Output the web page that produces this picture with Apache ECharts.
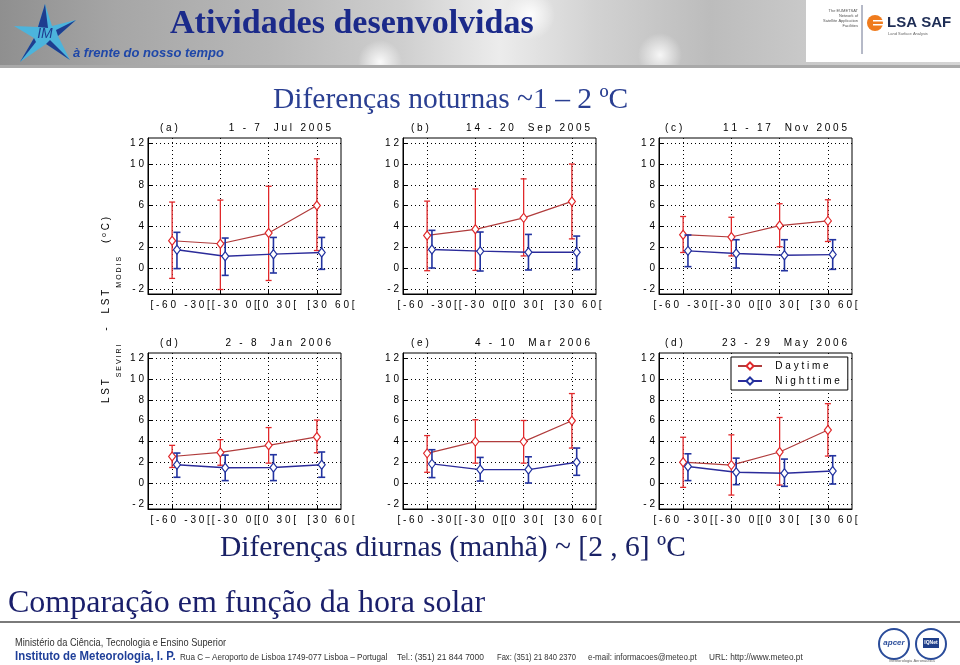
<!DOCTYPE html>
<html><head><meta charset="utf-8">
<script src="https://cdn.jsdelivr.net/npm/echarts@6/dist/echarts.min.js"></script>
<style>html,body{margin:0;padding:0;background:#fff}#c{width:960px;height:665px}</style>
</head><body><div id="c"></div>
<script>
// ---------- data ----------
const categories = ['[-60 -30[', '[-30 0[', '[0 30[', '[30 60['];
const xPositions = [1, 2, 3, 4];
const yTicks = [-2, 0, 2, 4, 6, 8, 10, 12];
const panelTags = ['(a)', '(b)', '(c)', '(d)', '(e)', '(d)'];
const panelDates = ['1 - 7  Jul 2005', '14 - 20  Sep 2005', '11 - 17  Nov 2005',
                    '2 - 8  Jan 2006', '4 - 10  Mar 2006', '23 - 29  May 2006'];
const seriesNames = ['Daytime', 'Nighttime'];
const dayMean  = [[2.62, 2.33, 3.36, 6.01], [3.13, 3.72, 4.82, 6.40], [3.20, 2.98, 4.08, 4.53],
                  [2.55, 2.94, 3.62, 4.43], [2.85, 3.98, 3.98, 5.98], [2.00, 1.72, 2.98, 5.10]];
const dayLow   = [[-1.00, -2.07, -1.20, 1.68], [-0.26, -0.23, 1.16, 2.80], [1.49, 1.16, 2.04, 2.55],
                  [1.49, 1.71, 1.91, 2.91], [1.03, 1.91, 1.91, 3.36], [-0.42, -1.16, -0.20, 2.59]];
const dayHigh  = [[6.34, 6.53, 7.86, 10.50], [6.43, 7.60, 8.57, 10.00], [4.95, 4.88, 6.18, 6.56],
                  [3.62, 4.17, 5.33, 6.05], [4.56, 6.08, 6.01, 8.60], [4.40, 4.63, 6.30, 7.63]];
const nightMean = [[1.75, 1.13, 1.33, 1.49], [1.78, 1.62, 1.52, 1.52], [1.65, 1.39, 1.23, 1.29],
                   [1.75, 1.46, 1.49, 1.75], [1.84, 1.29, 1.29, 2.00], [1.58, 1.03, 0.94, 1.16]];
const nightLow  = [[-0.06, -0.71, -0.48, -0.13], [0.00, -0.29, -0.19, -0.16], [0.13, 0.00, -0.26, -0.13],
                   [0.55, 0.23, 0.23, 0.55], [0.52, 0.19, 0.00, 0.74], [0.23, -0.16, -0.32, -0.10]];
const nightHigh = [[3.43, 2.88, 2.94, 2.94], [3.62, 3.46, 3.23, 3.07], [3.17, 2.72, 2.72, 2.72],
                   [2.88, 2.68, 2.72, 2.98], [3.20, 2.46, 2.52, 3.36], [2.81, 2.39, 2.30, 2.62]];

// ---------- layout / style ----------
const nightOffset = 0.1;
const gridLefts = [148, 403, 659];
const gridTops = [138, 353];
const gridW = 193, gridH = 156;
const tagOffsets = [12, 8, 6];
const dateOffsets = [10, 6, 5];
const labelShift = [8, 0, 0];
const evenExtraShift = 6;
const FONT = '"Liberation Sans", Arial, sans-serif';
const SERIF = '"Liberation Serif", "Times New Roman", serif';
const dayColor = '#e0282a', dayLine = '#b03c3c';
const nightColor = '#2233a0', nightLine = '#2b2b9a';
const sp = s => s.split('').join(' ');
const oddTicks = xPositions.filter((v, k) => k % 2 === 0);
const evenTicks = xPositions.filter((v, k) => k % 2 === 1);

const grids = [], xAxes = [], yAxes = [], titles = [], series = [];

function errRender(color, width, hw) {
  return function (params, api) {
    const x = api.value(0);
    const lo = api.coord([x, api.value(1)]);
    const hi = api.coord([x, api.value(2)]);
    const st = { stroke: color, lineWidth: width };
    return { type: 'group', children: [
      { type: 'line', shape: { x1: lo[0], y1: lo[1], x2: hi[0], y2: hi[1] }, style: st },
      { type: 'line', shape: { x1: lo[0] - hw, y1: lo[1], x2: lo[0] + hw, y2: lo[1] }, style: st },
      { type: 'line', shape: { x1: hi[0] - hw, y1: hi[1], x2: hi[0] + hw, y2: hi[1] }, style: st }
    ]};
  };
}

const labelFmt = v => sp(categories[xPositions.indexOf(v)] || '');

for (let i = 0; i < 6; i++) {
  const col = i % 3, row = Math.floor(i / 3);
  const left = gridLefts[col], top = gridTops[row];
  grids.push({ left: left, top: top, width: gridW, height: gridH, show: true,
               borderColor: '#000', borderWidth: 1, backgroundColor: '#fff' });
  const dotted = { show: true, lineStyle: { color: '#000', type: [1, 3], width: 1 } };
  const lblBase = { color: '#000', fontFamily: FONT, fontSize: 10, margin: 6,
                    showMinLabel: true, showMaxLabel: true, hideOverlap: false, formatter: labelFmt };
  // main x axis: ticks, grid lines and labels at 1 and 3
  xAxes.push({
    type: 'value', gridIndex: i, min: 0.5, max: 4.5, position: 'bottom',
    axisLine: { show: true, onZero: false, lineStyle: { color: '#000' } },
    axisTick: { show: true, inside: true, length: 4, customValues: xPositions, lineStyle: { color: '#000' } },
    axisLabel: Object.assign({ customValues: oddTicks, padding: [0, 0, 0, 2 * labelShift[col]] }, lblBase),
    splitLine: Object.assign({}, dotted)
  });
  // companion x axis: labels at 2 and 4 only
  xAxes.push({
    type: 'value', gridIndex: i, min: 0.5, max: 4.5, position: 'bottom', offset: 0,
    axisLine: { show: false, onZero: false }, axisTick: { show: false }, splitLine: { show: false },
    axisLabel: Object.assign({ customValues: evenTicks,
      padding: [0, 0, 0, 2 * (labelShift[col] + evenExtraShift)] }, lblBase)
  });
  yAxes.push({
    type: 'value', gridIndex: i, min: -2.5, max: 12.5,
    axisLine: { show: true, lineStyle: { color: '#000' } },
    axisTick: { show: true, inside: true, length: 4, customValues: yTicks, lineStyle: { color: '#000' } },
    axisLabel: { customValues: yTicks, color: '#000', fontFamily: FONT, fontSize: 10, margin: 4,
                 showMinLabel: true, showMaxLabel: true,
                 formatter: v => sp(String(v)) },
    splitLine: dotted
  });
  titles.push({ text: sp(panelTags[i]), left: left + tagOffsets[col], top: top - 15, padding: 0,
                textStyle: { fontSize: 10, fontWeight: 'normal', color: '#000', fontFamily: FONT } });
  titles.push({ text: sp(panelDates[i]), right: 960 - (left + gridW - dateOffsets[col]), top: top - 15, padding: 0,
                textStyle: { fontSize: 10, fontWeight: 'normal', color: '#000', fontFamily: FONT } });

  const xi = 2 * i;
  series.push({ type: 'custom', xAxisIndex: xi, yAxisIndex: i, silent: true, z: 2,
    encode: { x: 0, y: [1, 2] },
    data: xPositions.map((x, j) => [x, dayLow[i][j], dayHigh[i][j]]),
    renderItem: errRender(dayColor, 1.3, 3) });
  series.push({ type: 'line', name: seriesNames[0], xAxisIndex: xi, yAxisIndex: i, z: 3,
    data: xPositions.map((x, j) => [x, dayMean[i][j]]),
    symbol: 'diamond', symbolSize: [7, 9], showSymbol: true, animation: false,
    lineStyle: { color: dayLine, width: 1.2 },
    itemStyle: { color: '#fff', borderColor: dayColor, borderWidth: 1.2 } });
  series.push({ type: 'custom', xAxisIndex: xi, yAxisIndex: i, silent: true, z: 4,
    encode: { x: 0, y: [1, 2] },
    data: xPositions.map((x, j) => [x + nightOffset, nightLow[i][j], nightHigh[i][j]]),
    renderItem: errRender(nightColor, 1.6, 3.5) });
  series.push({ type: 'line', name: seriesNames[1], xAxisIndex: xi, yAxisIndex: i, z: 5,
    data: xPositions.map((x, j) => [x + nightOffset, nightMean[i][j]]),
    symbol: 'diamond', symbolSize: [7, 9], showSymbol: true, animation: false,
    lineStyle: { color: nightLine, width: 1.4 },
    itemStyle: { color: '#fff', borderColor: nightColor, borderWidth: 1.2 } });
}

function ftext(x, y, text, font, fill, sx) {
  return { type: 'text', x: x, y: y, scaleX: sx,
    style: { x: 0, y: 0, text: text, align: 'left', verticalAlign: 'middle', font: font, fill: fill } };
}

// ---------- page decoration ----------
const graphic = [
  { type: 'rect', z: -10, shape: { x: 0, y: 0, width: 960, height: 68 },
    style: { fill: new echarts.graphic.LinearGradient(0, 0, 1, 0, [
      { offset: 0, color: '#8f8f8f' }, { offset: 0.12, color: '#a6a6a6' }, { offset: 0.28, color: '#b8b8b8' },
      { offset: 0.42, color: '#cfcfcf' }, { offset: 0.52, color: '#ececec' }, { offset: 0.62, color: '#d2d2d2' },
      { offset: 0.74, color: '#bcbcbc' }, { offset: 0.84, color: '#c9c9c9' }, { offset: 1, color: '#d5d5d5' }]) } },
  { type: 'ellipse', z: -9, shape: { cx: 380, cy: 62, rx: 90, ry: 22 },
    style: { fill: new echarts.graphic.RadialGradient(0.5, 0.5, 0.5, [{ offset: 0, color: 'rgba(255,255,255,0.9)' }, { offset: 1, color: 'rgba(255,255,255,0)' }]) } },
  { type: 'ellipse', z: -9, shape: { cx: 530, cy: 15, rx: 70, ry: 25 },
    style: { fill: new echarts.graphic.RadialGradient(0.5, 0.5, 0.5, [{ offset: 0, color: 'rgba(255,255,255,0.95)' }, { offset: 1, color: 'rgba(255,255,255,0)' }]) } },
  { type: 'ellipse', z: -9, shape: { cx: 660, cy: 55, rx: 70, ry: 22 },
    style: { fill: new echarts.graphic.RadialGradient(0.5, 0.5, 0.5, [{ offset: 0, color: 'rgba(255,255,255,0.85)' }, { offset: 1, color: 'rgba(255,255,255,0)' }]) } },
  { type: 'rect', z: -8, shape: { x: 0, y: 65, width: 960, height: 3 }, style: { fill: '#a9a9a9' } },
  // IM logo
  { type: 'polygon', z: -5, shape: { points: [[45, 4], [52, 26], [76, 20], [58, 36], [70, 60], [46, 44], [20, 62], [34, 38], [14, 26], [38, 27]] },
    style: { fill: '#4cb4dc' } },
  { type: 'polygon', z: -4, shape: { points: [[45, 4], [48, 28], [38, 27]] }, style: { fill: '#1e3d8f' } },
  { type: 'polygon', z: -4, shape: { points: [[76, 20], [56, 30], [58, 36]] }, style: { fill: '#1e3d8f' } },
  { type: 'polygon', z: -4, shape: { points: [[70, 60], [50, 40], [46, 44]] }, style: { fill: '#1e3d8f' } },
  { type: 'polygon', z: -4, shape: { points: [[20, 62], [36, 42], [34, 38]] }, style: { fill: '#1e3d8f' } },
  { type: 'text', z: -3, style: { x: 45, y: 34, text: 'IM', align: 'center', verticalAlign: 'middle',
    font: 'italic 14px "Liberation Sans"', fill: '#1e3d8f' } },
  // LSA SAF box
  { type: 'rect', z: -5, shape: { x: 806, y: 0, width: 154, height: 62 }, style: { fill: '#ffffff' } },
  { type: 'line', z: -4, shape: { x1: 862, y1: 5, x2: 862, y2: 54 }, style: { stroke: '#6d7590', lineWidth: 1 } },
  { type: 'text', z: -4, style: { x: 858, y: 8, text: 'The EUMETSAT\nNetwork of\nSatellite Application\nFacilities',
    align: 'right', verticalAlign: 'top', font: '4px "Liberation Sans"', lineHeight: 5, fill: '#555' } },
  { type: 'circle', z: -4, shape: { cx: 875, cy: 23, r: 8 }, style: { fill: '#ef7b1d' } },
  { type: 'rect', z: -3, shape: { x: 873, y: 20, width: 11, height: 1.5 }, style: { fill: '#fff' } },
  { type: 'rect', z: -3, shape: { x: 873, y: 24, width: 11, height: 1.5 }, style: { fill: '#fff' } },
  { type: 'text', z: -3, style: { x: 887, y: 23, text: 'LSA SAF', align: 'left', verticalAlign: 'middle',
    font: 'bold 15px "Liberation Sans"', fill: '#1e2d55' } },
  { type: 'text', z: -3, style: { x: 888, y: 34, text: 'Land Surface Analysis', align: 'left', verticalAlign: 'middle',
    font: '4px "Liberation Sans"', fill: '#666' } },
  // header texts
  { type: 'text', style: { x: 170, y: 24, text: 'Atividades desenvolvidas', align: 'left', verticalAlign: 'middle',
    font: 'bold 34px ' + SERIF, fill: '#1b2a8a' } },
  { type: 'text', style: { x: 73, y: 53, text: 'à frente do nosso tempo', align: 'left', verticalAlign: 'middle',
    font: 'italic bold 13px "Liberation Sans"', fill: '#1f47a8' } },
  // slide texts
  { type: 'text', style: { x: 273, y: 100, text: 'Diferenças noturnas ~1 – 2 ºC', align: 'left', verticalAlign: 'middle',
    font: '29.5px ' + SERIF, fill: '#2a3f92' } },
  { type: 'text', style: { x: 220, y: 548, text: 'Diferenças diurnas (manhã) ~ [2 , 6] ºC', align: 'left', verticalAlign: 'middle',
    font: '29.5px ' + SERIF, fill: '#1a2266' } },
  { type: 'text', style: { x: 8, y: 604, text: 'Comparação em função da hora solar', align: 'left', verticalAlign: 'middle',
    font: '32px ' + SERIF, fill: '#1a1f6b' } },
  // rotated y label
  { type: 'text', x: 112, y: 310, rotation: Math.PI / 2,
    style: { text: '{a|L S T}{s| S E V I R I}{a|     -     L S T}{s| M O D I S}{a|     ( }{u|o}{a| C )}', align: 'center', verticalAlign: 'middle',
      rich: {
        a: { fontSize: 10, fontFamily: FONT, fill: '#000', verticalAlign: 'top', lineHeight: 18 },
        s: { fontSize: 7, fontFamily: FONT, fill: '#000', verticalAlign: 'bottom', lineHeight: 18 },
        u: { fontSize: 7, fontFamily: FONT, fill: '#000', verticalAlign: 'top', lineHeight: 22 }
      } } },
  // footer
  { type: 'rect', shape: { x: 0, y: 621, width: 960, height: 2 }, style: { fill: '#7a7a7a' } },
  ftext(15, 643, 'Ministério da Ciência, Tecnologia e Ensino Superior', '11px "Liberation Sans"', '#333', 0.84),
  ftext(15, 657, 'Instituto de Meteorologia, I. P.', 'bold 12px "Liberation Sans"', '#1f3f99', 0.95),
  ftext(180, 657, 'Rua C – Aeroporto de Lisboa 1749-077 Lisboa – Portugal', '9.5px "Liberation Sans"', '#333', 0.855),
  ftext(397, 657, 'Tel.: (351) 21 844 7000', '9.5px "Liberation Sans"', '#333', 0.89),
  ftext(497, 657, 'Fax: (351) 21 840 2370', '9.5px "Liberation Sans"', '#333', 0.8),
  ftext(588, 657, 'e-mail: informacoes@meteo.pt', '9.5px "Liberation Sans"', '#333', 0.84),
  ftext(709, 657, 'URL: http://www.meteo.pt', '9.5px "Liberation Sans"', '#333', 0.87),
  { type: 'circle', shape: { cx: 894, cy: 644, r: 15 }, style: { fill: '#fff', stroke: '#2a4c9a', lineWidth: 2 } },
  { type: 'circle', shape: { cx: 931, cy: 644, r: 15 }, style: { fill: '#fff', stroke: '#2a4c9a', lineWidth: 2 } },
  { type: 'text', style: { x: 894, y: 643, text: 'apcer', align: 'center', verticalAlign: 'middle',
    font: 'italic bold 8px "Liberation Sans"', fill: '#2a4c9a' } },
  { type: 'rect', shape: { x: 923, y: 638, width: 16, height: 10 }, style: { fill: '#1f3f8a' } },
  { type: 'text', style: { x: 931, y: 643, text: 'IQNet', align: 'center', verticalAlign: 'middle',
    font: 'bold 5px "Liberation Sans"', fill: '#fff' } },
  { type: 'text', style: { x: 912, y: 661, text: 'Meteorologia Aeronáutica', align: 'center', verticalAlign: 'middle',
    font: '4px "Liberation Sans"', fill: '#666' } }
];

const chart = echarts.init(document.getElementById('c'), null, { renderer: 'canvas' });
chart.setOption({
  backgroundColor: '#ffffff',
  animation: false,
  title: titles,
  grid: grids,
  xAxis: xAxes,
  yAxis: yAxes,
  series: series,
  legend: {
    data: seriesNames, left: 731, top: 357, orient: 'vertical',
    backgroundColor: '#fff', borderColor: '#000', borderWidth: 1, borderRadius: 0,
    padding: [4, 8, 4, 6], itemGap: 5, itemWidth: 24, itemHeight: 9,
    formatter: n => '   ' + sp(n),
    textStyle: { fontSize: 10, color: '#000', fontFamily: FONT },
    selectedMode: false
  },
  graphic: graphic
});
</script></body></html>
